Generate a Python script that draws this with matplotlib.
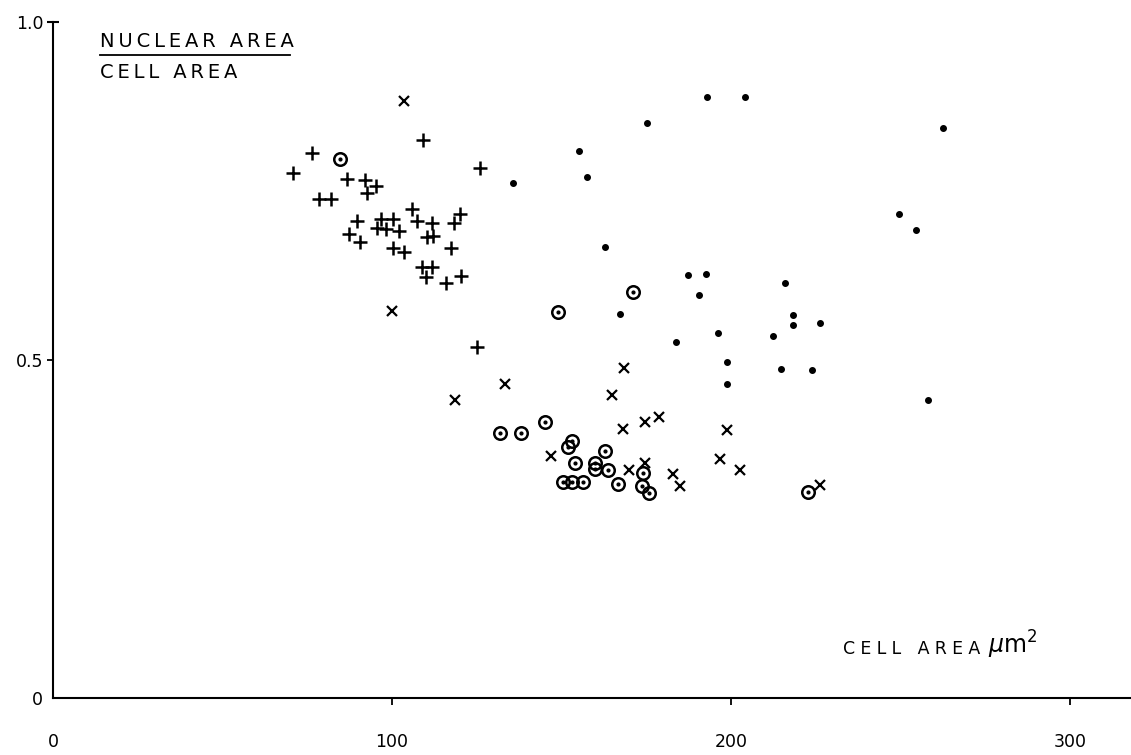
import matplotlib
matplotlib.use("Agg")
import matplotlib.pyplot as plt
from matplotlib.lines import Line2D

# + points
plus_x = [109.1, 76.4, 70.8, 126.0, 86.7, 92.0, 95.2, 92.6, 78.5, 81.9, 105.8, 120.1,
          89.8, 96.7, 100.4, 107.3, 111.7, 118.2, 95.6, 98.3, 102.0, 87.4, 90.6, 110.2,
          112.1, 100.4, 103.5, 117.4, 108.8, 111.8, 110.1, 115.9, 120.4, 125.1]
plus_y = [0.825, 0.806, 0.777, 0.784, 0.768, 0.767, 0.757, 0.747, 0.738, 0.738, 0.724, 0.716,
          0.706, 0.708, 0.708, 0.705, 0.702, 0.703, 0.696, 0.694, 0.691, 0.686, 0.675, 0.682,
          0.683, 0.665, 0.660, 0.666, 0.638, 0.637, 0.623, 0.614, 0.625, 0.519]

# x points
cross_x = [103.5, 100.0, 118.6, 133.3, 164.9, 168.4, 146.9, 168.1, 174.6, 178.8, 169.9,
           174.6, 182.9, 185.0, 196.8, 198.8, 202.7, 226.3]
cross_y = [0.883, 0.572, 0.441, 0.464, 0.448, 0.488, 0.358, 0.398, 0.408, 0.416, 0.337,
           0.348, 0.331, 0.314, 0.354, 0.396, 0.337, 0.315]

# circled dot points
ring_x = [84.7, 149.0, 171.1, 131.9, 138.0, 145.1, 153.1, 151.9, 154.0, 162.8, 159.9,
          159.9, 163.7, 150.4, 153.1, 156.3, 166.7, 174.0, 173.7, 175.8, 222.7]
ring_y = [0.797, 0.571, 0.601, 0.392, 0.392, 0.408, 0.380, 0.371, 0.348, 0.365, 0.348,
          0.339, 0.337, 0.320, 0.320, 0.320, 0.317, 0.333, 0.314, 0.303, 0.305]

# dot points
dot_x = [192.9, 204.1, 175.2, 155.2, 157.5, 262.5, 135.7, 249.6, 254.6, 162.8, 187.3,
         192.6, 190.6, 215.9, 167.3, 218.3, 218.3, 226.3, 183.8, 196.2, 198.8, 198.8,
         212.4, 214.7, 223.9, 258.1]
dot_y = [0.889, 0.889, 0.851, 0.809, 0.771, 0.843, 0.762, 0.716, 0.692, 0.667, 0.626,
         0.627, 0.596, 0.614, 0.568, 0.567, 0.552, 0.555, 0.527, 0.540, 0.497, 0.464,
         0.536, 0.487, 0.485, 0.441]

x_ticks = [0, 100, 200, 300]
y_ticks = [0, 0.5, 1.0]
y_labels = ["0", "0.5", "1.0"]


def spaced(s, gap):
    return gap.join(s)


fig = plt.figure(figsize=(11.31, 7.55), dpi=100)
ax = fig.add_axes([53 / 1131, 57 / 755, 1078 / 1131, 676 / 755])

ax.plot(plus_x, plus_y, ls="none", marker="+", ms=9.5, mew=1.8, color="black")
ax.plot(cross_x, cross_y, ls="none", marker="x", ms=7.5, mew=1.6, color="black")
ax.plot(ring_x, ring_y, ls="none", marker="o", ms=9, mew=1.8, mfc="none", color="black")
ax.plot(ring_x, ring_y, ls="none", marker="o", ms=2, color="black")
ax.plot(dot_x, dot_y, ls="none", marker="o", ms=4, color="black")

ax.set_xlim(0, 318)
ax.set_ylim(0, 1.0)
for s in ["top", "right"]:
    ax.spines[s].set_visible(False)
ax.spines["left"].set_linewidth(1.5)
ax.spines["bottom"].set_linewidth(1.5)

ax.set_xticks(x_ticks)
ax.set_xticklabels([str(v) for v in x_ticks])
ax.set_yticks(y_ticks)
ax.set_yticklabels(y_labels)
ax.tick_params(axis="x", direction="out", length=5, width=1.3, pad=20, labelsize=12.5)
ax.tick_params(axis="y", direction="out", length=4, width=1.3, pad=3, labelsize=12.5)
ax.xaxis.get_major_ticks()[0].tick1line.set_visible(False)
ax.yaxis.get_major_ticks()[0].tick1line.set_visible(False)
top = ax.yaxis.get_major_ticks()[2]
top.tick1line.set_marker("_")
top.tick1line.set_markersize(9)
top.tick1line.set_markeredgewidth(1.5)
top.label1.set_y(1.006)

# ratio label at top left
fig.text(100 / 1131, 1 - 47 / 755, spaced("NUCLEAR AREA", "\u2009"), fontsize=14,
         va="baseline", ha="left")
fig.add_artist(Line2D([100 / 1131, 290 / 1131], [1 - 55 / 755, 1 - 55 / 755],
                      color="black", lw=1.3))
fig.text(100 / 1131, 1 - 78 / 755, spaced("CELL AREA", "\u2009"), fontsize=14,
         va="baseline", ha="left")

# x axis label
fig.text(843 / 1131, 1 - 654 / 755, spaced("CELL", "\u2009\u200a") + "   " + spaced("AREA", "\u2009\u200a"),
         fontsize=12.5, va="baseline", ha="left")
fig.text(988 / 1131, 1 - 654 / 755, "$\\mu$m$^2$", fontsize=17, va="baseline", ha="left")

fig.savefig("out.png", dpi=100)
